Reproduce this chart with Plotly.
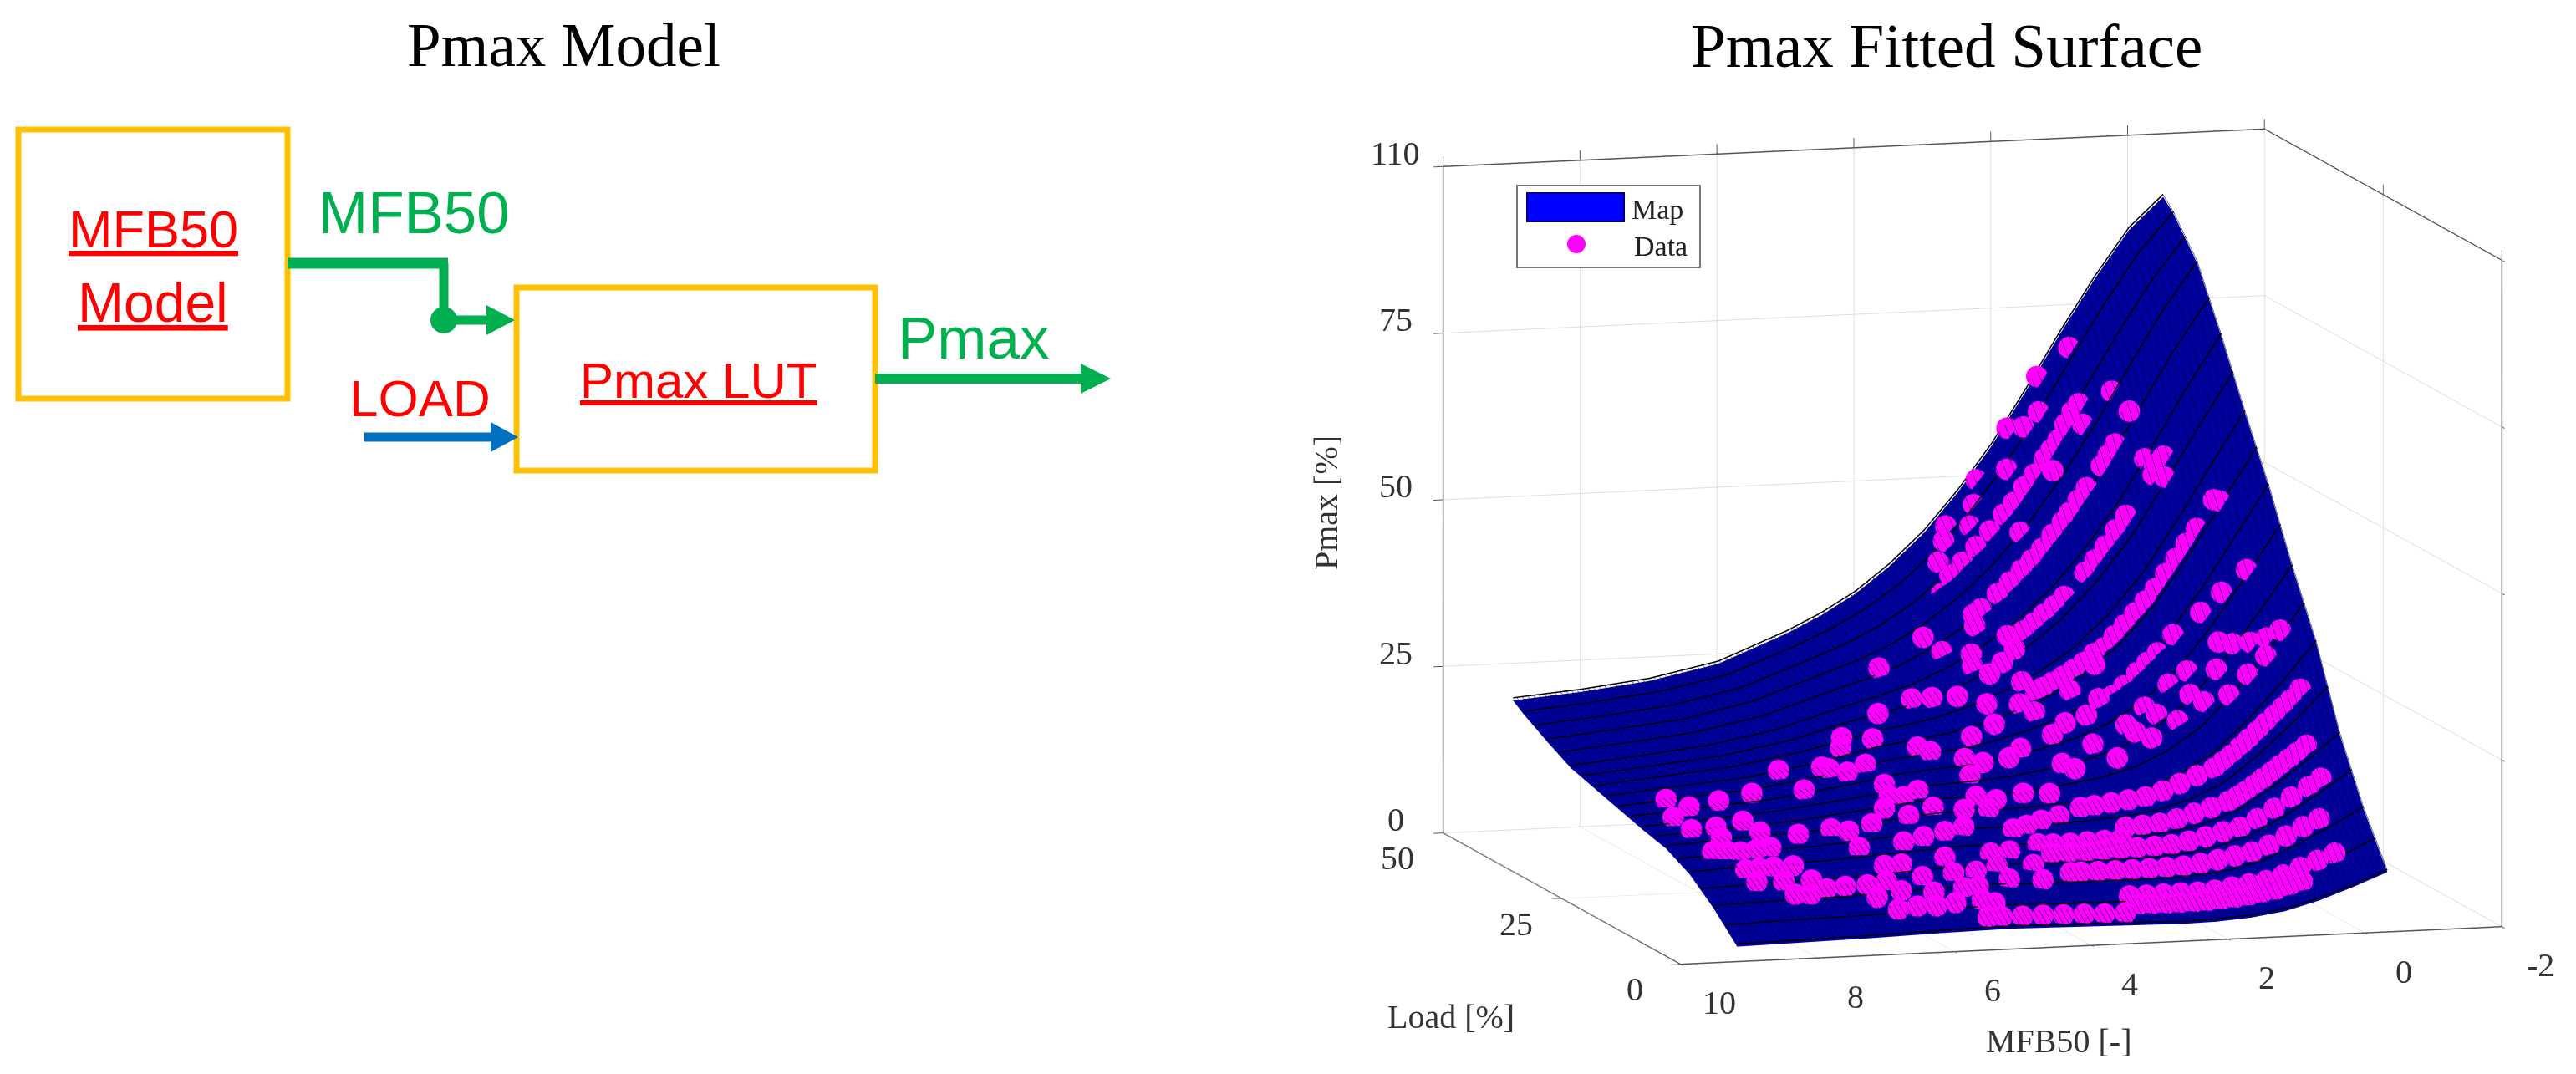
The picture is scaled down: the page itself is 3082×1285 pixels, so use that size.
import plotly.graph_objects as go

W, H = 3082, 1285

# fitted map (against a plain 0..110 scale of the full box height)
map_mfb = [9, 8, 7, 6, 5, 4.5, 4, 3.5, 3, 2.5, 2, 1.5, 1, 0.5, 0, -0.5]
map_load = [2.5, 5, 7.5, 10, 12.5, 15, 17.5, 20, 22.5, 25, 27.5, 30, 32.5, 35, 37.5, 40, 42.5, 45, 47.5, 49.7]
map_pmax = [
    [1.3, 1.5, 1.7, 2.0, 2.2, 2.1, 2.0, 1.9, 1.8, 1.7, 1.8, 2.2, 3.0, 4.5, 6.5, 8.7],
    [3.4, 3.65, 3.85, 4.25, 4.55, 4.45, 4.35, 4.25, 4.2, 4.15, 4.3, 4.8, 5.85, 7.75, 10.15, 12.8],
    [5.5, 5.8, 6.0, 6.5, 6.9, 6.8, 6.7, 6.6, 6.6, 6.6, 6.8, 7.4, 8.7, 11, 13.8, 16.9],
    [7.2, 7.6, 7.85, 8.45, 9, 8.9, 8.8, 8.75, 8.85, 8.95, 9.3, 10.15, 11.8, 14.7, 18.15, 21.95],
    [8.9, 9.4, 9.7, 10.4, 11.1, 11.0, 10.9, 10.9, 11.1, 11.3, 11.8, 12.9, 14.9, 18.4, 22.5, 27],
    [9.95, 10.55, 10.95, 11.85, 12.75, 12.75, 12.7, 12.85, 13.15, 13.55, 14.35, 15.95, 18.55, 22.9, 27.95, 33.5],
    [11, 11.7, 12.2, 13.3, 14.4, 14.5, 14.5, 14.8, 15.2, 15.8, 16.9, 19, 22.2, 27.4, 33.4, 40],
    [11.5, 12.25, 12.9, 14.15, 15.45, 15.65, 15.8, 16.25, 16.9, 17.75, 19.2, 21.75, 25.5, 31.3, 38, 45.15],
    [12, 12.8, 13.6, 15, 16.5, 16.8, 17.1, 17.7, 18.6, 19.7, 21.5, 24.5, 28.8, 35.2, 42.6, 50.3],
    [12.6, 13.5, 14.3, 15.85, 17.7, 18.15, 18.6, 19.45, 20.65, 22.15, 24.45, 27.95, 32.85, 39.8, 47.75, 55.9],
    [13.2, 14.2, 15, 16.7, 18.9, 19.5, 20.1, 21.2, 22.7, 24.6, 27.4, 31.4, 36.9, 44.4, 52.9, 61.5],
    [13.8, 14.85, 15.75, 17.55, 20, 20.75, 21.6, 23, 24.9, 27.25, 30.5, 35.1, 41.1, 49.05, 57.8, 66.5],
    [14.4, 15.5, 16.5, 18.4, 21.1, 22, 23.1, 24.8, 27.1, 29.9, 33.6, 38.8, 45.3, 53.7, 62.7, 71.5],
    [15, 16.1, 17.2, 19.2, 22.2, 23.4, 24.8, 26.85, 29.6, 32.95, 37.3, 43.1, 50.15, 58.85, 68.05, 76.75],
    [15.6, 16.7, 17.9, 20, 23.3, 24.8, 26.5, 28.9, 32.1, 36, 41, 47.4, 55, 64, 73.4, 82],
    [16.7, 17.8, 19, 21.25, 24.85, 26.55, 28.6, 31.4, 35.05, 39.55, 45.15, 52.15, 60.25, 69.45, 78.7, 86.9],
    [17.8, 18.9, 20.1, 22.5, 26.4, 28.3, 30.7, 33.9, 38, 43.1, 49.3, 56.9, 65.5, 74.9, 84, 91.8],
    [19, 20.05, 21.3, 23.65, 27.75, 29.95, 32.65, 36.2, 40.7, 46.3, 53, 61.05, 69.9, 79.1, 87.75, 94.8],
    [20.2, 21.2, 22.5, 24.8, 29.1, 31.6, 34.6, 38.5, 43.4, 49.5, 56.7, 65.2, 74.3, 83.3, 91.5, 97.8],
    [21.5, 22.4, 23.7, 26, 30.5, 33.2, 36.5, 40.8, 46, 52.5, 60, 68.8, 78, 86.7, 94.5, 99.7],
]

# measured points that form a strand at one load: load, mfb50 list, pmax list
sweeps = [
    (3, [3.3, 3.6, 3.9, 4.2, 4.5, 4.8, 5.1, 5.3],
     [2.3, 2.35, 2.45, 2.5, 2.6, 2.6, 2.65, 2.7]),
    (3.9, [0.65, 0.85, 1.05, 1.25, 1.45, 1.65, 1.85, 2.05, 2.25, 2.45, 2.65, 2.85, 3.05],
     [5.8, 5, 4.5, 4.1, 3.7, 3.5, 3.3, 3.2, 3.1, 3.1, 3.1, 3.1, 3.15]),
    (5, [0.1, 0.35, 0.6, 0.85, 1.1, 1.35, 1.6, 1.85, 2.1, 2.35, 2.6, 2.85, 3.1],
     [9.7, 8.65, 7.6, 6.5, 5.7, 5.3, 4.9, 4.5, 4.3, 4.3, 4.25, 4.2, 4.2]),
    (8, [0.12, 0.35, 0.6, 0.85, 1.1, 1.35, 1.6, 1.85, 2.1, 2.35, 2.6, 2.85, 3.1, 3.35, 3.6, 3.75],
     [14.1, 12.9, 11.5, 10.1, 9.1, 8.6, 8.1, 7.6, 7.3, 7.2, 7.15, 7.1, 7.05, 7.05, 7.1, 7.1]),
    (10.5, [-0.08, 0.1, 0.35, 0.6, 0.85, 1.1, 1.35, 1.6, 1.85, 2.1, 2.35, 2.6, 2.85, 3.1, 3.35, 3.6, 3.85],
     [19.6, 18.3, 16.7, 15, 13.4, 12.1, 11.5, 10.8, 10.2, 9.75, 9.6, 9.5, 9.35, 9.3, 9.25, 9.25, 9.2]),
    (11.7, [2.75, 3, 3.25, 3.5, 3.75],
     [10.5, 10.4, 10.3, 10.2, 10.2]),
    (13, [-0.04, 0.1, 0.22, 0.35, 0.47, 0.6, 0.72, 0.85, 0.97, 1.1, 1.35, 1.6, 1.85, 2.1, 2.35, 2.6],
     [24, 22.8, 21.8, 20.8, 19.8, 18.8, 17.8, 16.8, 16, 15.3, 14.4, 13.6, 12.8, 12.2, 12, 11.8]),
    (16, [-0.16, -0.02, 0.1, 0.22, 0.35, 0.47, 0.6, 0.72, 0.85, 0.97, 1.1, 1.35, 1.6, 1.85, 2.1, 2.35, 2.6, 2.85, 3.05],
     [31.9, 30.2, 29, 27.75, 26.5, 25.25, 24, 22.75, 21.5, 20.5, 19.5, 18.4, 17.2, 16.1, 15.25, 14.9, 14.55, 14.2, 14]),
    (27.2, [1.15, 1.3, 1.45, 1.64, 1.8],
     [33.7, 32.2, 30.6, 28.5, 27]),
    (30.5, [0.35, 0.5, 0.65, 0.8, 0.95, 1.1, 1.25, 1.4, 1.55, 1.7, 1.85, 2, 2.15, 2.3, 2.45, 2.6, 2.7],
     [52.4, 50, 47.6, 45.2, 42.8, 40.8, 38.9, 37, 35.3, 33.4, 32.5, 31.1, 30, 29, 28.1, 27.3, 26.8]),
    (36, [0.45, 0.6, 1, 1.15, 1.3, 1.45, 1.6, 1.9, 2.05, 2.2, 2.35, 2.5],
     [62, 59, 52.5, 50.2, 47.6, 45.4, 43.4, 39.6, 38.1, 36.8, 35.4, 34.2]),
    (40, [0.88, 0.98, 1.08, 1.3, 1.42, 1.55, 1.65, 1.8, 1.95, 2.1, 2.25, 2.42, 2.6, 2.84, 2.95],
     [62.5, 60.7, 59, 55.5, 53.5, 51.5, 50, 48, 45.8, 44, 42.4, 40.5, 38.7, 36.3, 35.4]),
    (44.5, [1.1, 1.2, 1.3, 1.4, 1.5, 1.6, 1.75, 1.9, 2.05, 2.2, 2.4, 2.6, 2.8, 2.98, 3.1],
     [67.3, 66, 64, 61.5, 60, 58.5, 56, 54, 51.5, 49.6, 47, 44.5, 42, 40, 37]),
]

# measured points that stand alone
loose_mfb = [
    8.37, 8.2, 8.55, 7.74, 7.2, 6.5, 8.5, 8.14, 7.72, 8.23, 7.65, 8.5, 8.3, 8.14, 7.9, 7.68,
    8.26, 8.07, 7.86, 7.58, 8.23, 7.85, 7.46, 7.82, 7.32, 7.6,
    7.16, 6.64, 6.46, 6.06, 6.47, 5.49, 5.08, 4.68, 5.82, 5.51, 5.17, 4.86, 6.31, 6.06, 5.4,
    7.04, 6.72, 6.42, 5.88, 5.41, 5.07, 4.72, 4.71, 4.42, 3.95, 4.19, 4.68, 4.21,
    6.7, 6.3, 5.85, 5.4, 5.19, 6.5, 6.21, 5.94, 5.65, 5.25, 5.1,
    4.17, 3.95, 3.7, 3.4,
    4.33, 4.2, 3.95, 3.67, 4.76, 5.43, 5.55, 5.08, 4.6, 4.48, 6.56, 6, 5.93, 5.75, 5.43,
    5.43, 5.5, 5.32, 5.08, 5.74, 4.37, 4.13, 4.32, 3.7, 3.35, 4.2, 3.92, 4.1, 3.3, 3.54,
    3.45, 3.81, 2.97, 2.85, 2.58, 2.8, 2.02, 2.27, 3.38, 2.8, 2.3, 1.92,
    3.19, 3.48, 3.24, 2.73, 2.93, 3.13,
    0.1, 0.35, 0.62, 0.9, 1.25, 1.65, 0.94, 1.18, 1.54, 1.85, 1.45, 1.8, 2.2, 2.37, 2.8, 2.9, 0.65, 1,
    -0.13, 0.02, 0.2, 0.4, 0.55, 0, 0.33, 0.6, 0.95,
    0.05, 0.1, 0.5, 0.55, 0.62,
    1, 1.4, 0.75, 0.7, 1.13, 1.5, 1.7, 1.85, 2, 1.63, 2.3, 2.42, 2.55, 2.1, 2.8, 2.9, 3.05,
    3.65, 3, 2.7,
]
loose_load = [
    26.6, 24.2, 22.5, 24.6, 25.4, 24.5, 19.4, 19.4, 19.8, 17, 17.2, 14.9, 14.6, 14.3, 14.4, 14.5,
    11.4, 11.3, 11.3, 11.2, 9.5, 9.3, 9.1, 7.3, 7.9, 7.2,
    16.2, 16.8, 15.7, 16.6, 13.3, 17, 17.8, 17, 13.3, 13.6, 14, 14.5, 10.3, 10.3, 10.7,
    8, 8, 8.3, 8.5, 8.7, 8.9, 9.5, 11, 11.2, 12, 9.5, 7.5, 7.2,
    6.2, 6.9, 6.5, 6.7, 6.7, 4.6, 4.8, 4.6, 4.8, 5, 4.5,
    14, 14.4, 14.9, 15.5,
    40, 35, 34.3, 33, 34, 32, 30.5, 30.5, 28, 27, 29, 28, 27.5, 26.2, 27,
    23, 21, 20.5, 21, 18.5, 19, 18.2, 17, 18.7, 18.2, 22.7, 24, 25.3, 25, 24,
    28.4, 28, 30, 28.6, 26, 25.5, 27, 26, 31, 32, 29, 29.3,
    37, 39, 36, 34.5, 34.2, 34,
    19.5, 19.7, 19.8, 21, 21.5, 21.2, 24, 24.5, 24.3, 23.7, 23, 22.5, 20.5, 23.2, 20.8, 22, 22, 22.5,
    19.8, 20.5, 21.3, 22.2, 23, 25, 25.5, 26, 26.8,
    30, 30.5, 35, 36.5, 37.5,
    48, 49, 42.6, 39.6, 43.2, 47.2, 47.5, 48.8, 46.7, 42.3, 48.8, 47.6, 46.5, 42.4, 48, 47, 46,
    40.5, 39, 36.5,
]
loose_pmax = [
    13.5, 13.2, 12.4, 13.8, 14.4, 15, 11.7, 11.9, 12.5, 11.2, 11.8, 10, 10, 10, 10.2, 10.4,
    8.4, 8.6, 8.7, 8.8, 7.2, 7.2, 7.3, 5.9, 6.3, 5.8,
    11.6, 12, 12, 12.6, 10.3, 13.5, 14.3, 14.1, 10.9, 11.5, 12, 12.4, 8.6, 8.7, 9.3,
    6.5, 6.6, 6.9, 7.3, 7.6, 7.6, 8, 9.5, 9.6, 10.2, 8, 6.7, 6.5,
    5.3, 5.9, 5.6, 6, 6.1, 3.9, 4.2, 4.2, 4.5, 4.6, 4.3,
    11.9, 12.2, 12.7, 13,
    27.3, 24.3, 24.7, 25.3, 22.6, 19.8, 18.9, 20.1, 19.6, 19.2, 16.3, 17, 16.9, 16.8, 17.6,
    16, 15, 15, 15.7, 14.2, 15.2, 14.9, 14, 15.5, 15.5, 17, 18.4, 18.6, 20, 19,
    22.6, 20.9, 25, 24.2, 23.4, 21.8, 26.7, 24.5, 24.8, 27.7, 27.3, 31.3,
    30.3, 30, 28.7, 32, 30, 28.3,
    36, 33, 29.7, 28.2, 25, 22.5, 32, 29.7, 26.2, 23.7, 25.5, 23, 19.8, 21, 18.2, 18.6, 33, 28.8,
    40, 38.5, 37.5, 37, 37, 47.8, 44, 40.6, 36.8,
    57, 57, 59, 60.5, 61,
    75, 70, 70, 68, 64.5, 65, 62.5, 61.8, 56, 57.5, 53.5, 50, 47, 47.5, 46.5, 44.5, 41.5,
    31.8, 34, 33.3,
]

# the top label of the source axis says 110 although it sits one even step above 75
z_ticks = [0, 25, 50, 75, 100]
z_labels = ["0", "25", "50", "75", "110"]
x_ticks = [10, 8, 6, 4, 2, 0, -2]
y_ticks = [0, 25, 50]

Z_SCALE = 100 / 110

ORANGE = "#FFC000"
GREEN = "#00B050"
BLUE = "#0070C0"
RED = "#FF0000"
SERIF = "Liberation Serif"
SANS = "Liberation Sans"


def px(v):
    return v / W


def py(v):
    return 1 - v / H


data_x, data_y, data_z = list(loose_mfb), list(loose_load), [(p + 1.4) * Z_SCALE for p in loose_pmax]
for load, mfb, pmax in sweeps:
    for m, p in zip(mfb, pmax):
        data_x.append(m)
        data_y.append(load)
        data_z.append((p + 1.4) * Z_SCALE)  # lift a little so the surface does not hide the marker

surface_z = [[v * Z_SCALE for v in row] for row in map_pmax]
surface = go.Surface(
    x=map_mfb, y=map_load, z=surface_z,
    colorscale=[[0, "#00009C"], [1, "#00009C"]],
    showscale=False,
    lighting=dict(ambient=1, diffuse=0, specular=0, roughness=1, fresnel=0),
)
# fine hatch of the mesh, lifted because contours sink into the surface with this camera
hatch = go.Surface(
    x=map_mfb, y=map_load, z=[[v + 0.3 for v in row] for row in surface_z],
    hidesurface=True, showscale=False, colorscale=[[0, "black"], [1, "black"]],
    contours=dict(x=dict(show=True, start=-0.5, end=9, size=0.08, color="#000030", width=2)),
)
# black lines along each row of the map
line_x, line_y, line_z = [], [], []
for load, row in zip(map_load, surface_z):
    line_x += map_mfb + [None]
    line_y += [load] * len(map_mfb) + [None]
    line_z += [v + 0.4 for v in row] + [None]
mesh_lines = go.Scatter3d(x=line_x, y=line_y, z=line_z, mode="lines", line=dict(color="black", width=3))
points = go.Scatter3d(
    x=data_x, y=data_y, z=data_z, mode="markers",
    marker=dict(size=15, color="#FF00FF", line=dict(width=0)),
)

axis_common = dict(
    showbackground=False, showspikes=False, gridcolor="#DDDDDD", gridwidth=2,
    showline=True, linecolor="#555555", linewidth=3, ticks="outside", ticklen=12,
    tickcolor="#555555", tickwidth=2, mirror="all", showticklabels=False,
    title=dict(text=""), zeroline=False,
)

fig = go.Figure(data=[surface, hatch, mesh_lines, points])

shapes = []


def rect(x0, y0, x1, y1, color, width=7, fill=None):
    shapes.append(dict(type="rect", xref="paper", yref="paper", x0=px(x0), x1=px(x1), y0=py(y0), y1=py(y1),
                       line=dict(color=color, width=width), fillcolor=fill))


def seg(x0, y0, x1, y1, color, width):
    shapes.append(dict(type="line", xref="paper", yref="paper", x0=px(x0), x1=px(x1), y0=py(y0), y1=py(y1),
                       line=dict(color=color, width=width)))


def arrow(x0, x1, head_x, y, half, color, width):
    seg(x0, y, head_x, y, color, width)
    path = f"M {px(head_x)} {py(y - half)} L {px(x1)} {py(y)} L {px(head_x)} {py(y + half)} Z"
    shapes.append(dict(type="path", xref="paper", yref="paper", path=path, fillcolor=color, line=dict(width=0)))


def dot(cx, cy, r, color):
    shapes.append(dict(type="circle", xref="paper", yref="paper", x0=px(cx - r), x1=px(cx + r),
                       y0=py(cy + r), y1=py(cy - r), fillcolor=color, line=dict(width=0)))


# block diagram
rect(22, 155, 344, 477, ORANGE)
rect(618, 344, 1047, 563, ORANGE)
seg(344, 315, 536, 315, GREEN, 13)
seg(531, 315, 531, 383, GREEN, 11)
dot(531, 383, 16, GREEN)
arrow(531, 616, 582, 383, 18, GREEN, 11)
arrow(436, 620, 587, 523, 18, BLUE, 11)
arrow(1047, 1329, 1293, 453, 18, GREEN, 12)

# legend of the surface plot
rect(1815, 222, 2034, 320, "#777777", width=2, fill="white")
rect(1827, 231, 1943, 265, "#000080", width=2, fill="#0000FF")
dot(1886, 292, 11, "#FF00FF")

labels = [
    ("Pmax Model", 674, 55, 73, SERIF, "black", 0),
    ("Pmax Fitted Surface", 2329, 55, 75, SERIF, "black", 0),
    ("<u>MFB50</u>", 183, 274, 63, SANS, RED, 0),
    ("<u>Model</u>", 183, 362, 66, SANS, RED, 0),
    ("<u>Pmax LUT</u>", 835, 455, 60, SANS, RED, 0),
    ("MFB50", 495, 255, 71, SANS, GREEN, 0),
    ("LOAD", 502, 476, 62, SANS, RED, 0),
    ("Pmax", 1165, 404, 71, SANS, GREEN, 0),
    ("Map", 1983, 251, 34, SERIF, "#222222", 0),
    ("Data", 1987, 295, 34, SERIF, "#222222", 0),
    ("Pmax [%]", 1586, 602, 40, SERIF, "#333333", -90),
    ("Load [%]", 1736, 1216, 40, SERIF, "#333333", 0),
    ("MFB50 [-]", 2463, 1245, 40, SERIF, "#333333", 0),
]
annotations = [
    dict(text=t, x=px(x), y=py(y), xref="paper", yref="paper", showarrow=False, xanchor="center", yanchor="middle",
         textangle=a, font=dict(family=f, size=s, color=c))
    for t, x, y, s, f, c, a in labels
]

tick_font = dict(family=SERIF, size=40, color="#333333")
scene_labels = []
for v, lab in zip(z_ticks, z_labels):
    scene_labels.append(dict(x=10, y=50, z=v, text=lab, showarrow=False, xshift=-57, yshift=16, font=tick_font))
for v in y_ticks:
    scene_labels.append(dict(x=10, y=v, z=0, text=str(v), showarrow=False, xshift=-55, yshift=-30, font=tick_font))
for v in x_ticks:
    scene_labels.append(dict(x=v, y=0, z=0, text=str(v), showarrow=False, xshift=46, yshift=-46, font=tick_font))

d = 1.195
fig.update_layout(
    width=W, height=H, margin=dict(l=0, r=0, t=0, b=0), paper_bgcolor="white", showlegend=False,
    shapes=shapes, annotations=annotations,
    scene=dict(
        domain=dict(x=[px(1640), px(3080)], y=[py(1284), py(24)]),
        aspectmode="manual", aspectratio=dict(x=1.623, y=1.631, z=1.282),
        camera=dict(projection=dict(type="orthographic"), up=dict(x=0, y=0, z=1),
                    center=dict(x=0, y=0, z=0),
                    eye=dict(x=-0.273 * d, y=-0.949 * d, z=0.159 * d)),
        xaxis=dict(axis_common, range=[10, -2], tickvals=x_ticks),
        yaxis=dict(axis_common, range=[0, 50], tickvals=y_ticks),
        zaxis=dict(axis_common, range=[0, 100], tickvals=z_ticks),
        annotations=scene_labels,
    ),
)

fig.write_html("out.html", config=dict(displayModeBar=False), post_script="document.body.style.margin='0';")
